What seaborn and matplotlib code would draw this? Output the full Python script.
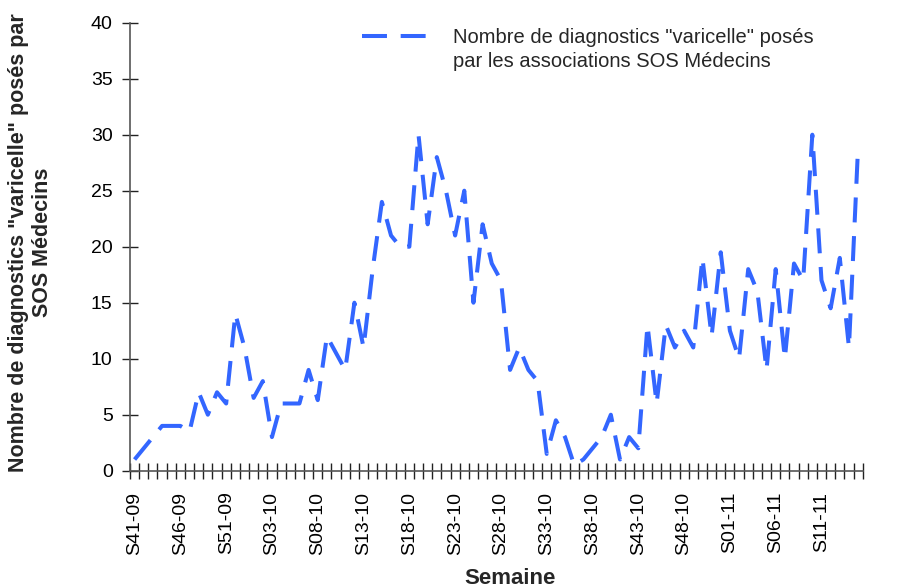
import numpy as np
import pandas as pd
import seaborn as sns
import matplotlib.pyplot as plt
from matplotlib.lines import Line2D

# weekly categories S41-09 .. S15-11 (2009 has 53 ISO weeks)
weeks = ([f"S{w:02d}-09" for w in range(41, 54)]
         + [f"S{w:02d}-10" for w in range(1, 53)]
         + [f"S{w:02d}-11" for w in range(1, 16)])

# number of "varicelle" diagnoses per week
diagnostics = [
    1, 2, 3, 4, 4, 4, 3.5, 7, 5, 7,
    6, 14, 11, 6.5, 8, 3, 6, 6, 6, 9,
    6.3, 12, 10.5, 9, 15, 11, 18, 24, 21, 20,
    20, 30, 22, 28, 25, 21, 25, 15, 22, 18.5,
    17, 9, 11, 9, 8, 1.5, 4.5, 3, 0.5, 1,
    2, 3, 5, 1, 3, 2, 13, 6, 13, 11,
    12.5, 11, 19, 12, 19.5, 12.5, 10, 18, 16, 9,
    18, 10, 18.5, 17, 30, 17, 14.5, 19, 11, 29,
]

y_ticks = [0, 5, 10, 15, 20, 25, 30, 35, 40]
label_step = 5

series_label = ['Nombre de diagnostics "varicelle" posés',
                'par les associations SOS Médecins']
y_title = 'Nombre de diagnostics "varicelle" posés par\nSOS Médecins'
x_title = 'Semaine'

df = pd.DataFrame({'semaine': weeks, 'pos': np.arange(len(weeks)), 'n': diagnostics})

sns.set_theme(style='white')
plt.rcParams['font.family'] = ['Liberation Sans', 'DejaVu Sans']

fig = plt.figure(figsize=(9.02, 5.88), dpi=100)
ax = fig.add_axes([130 / 902, 1 - 470.7 / 588, 732.7 / 902, 448 / 588])

sns.lineplot(data=df, x='pos', y='n', ax=ax, estimator=None, color='#3366FF',
             linewidth=2.9, linestyle=(0, (6.2, 3.4)), dash_capstyle='butt',
             legend=False)

ax.set_xlim(-0.5, len(weeks) - 0.5)
ax.set_ylim(0, 40)

# labels every 5 weeks, tick marks between categories
ax.set_xticks(df['pos'][::label_step])
ax.set_xticklabels(df['semaine'][::label_step], rotation=90)
ax.set_xticks(np.arange(len(weeks) + 1) - 0.5, minor=True)
ax.tick_params(axis='x', which='major', length=0, pad=15, labelsize=14, colors='black')
ax.tick_params(axis='x', which='minor', direction='inout', length=11, width=1, color='#222222')
ax.xaxis.set_ticks_position('bottom')

ax.set_yticks(y_ticks)
ax.tick_params(axis='y', which='major', direction='inout', length=11, width=1,
               color='#222222', labelsize=14, labelcolor='black', pad=7)
ax.yaxis.set_ticks_position('left')

for side in ['top', 'right']:
    ax.spines[side].set_visible(False)
for side in ['left', 'bottom']:
    ax.spines[side].set_color('#555555')
    ax.spines[side].set_linewidth(1.2)

ax.set_xlabel('')
ax.set_ylabel(y_title, fontsize=15.5, fontweight='bold', va='center', linespacing=1.2)
ax.yaxis.set_label_coords(-0.136, 0.51)
fig.text(510 / 902, 1 - 578 / 588, x_title, ha='center', va='center',
         fontsize=16, fontweight='bold')

handles = [ax.lines[0], Line2D([], [], color='none')]
fig.legend(handles, series_label, loc='upper left',
           bbox_to_anchor=(362 / 902, 1 - 28 / 588), frameon=False,
           handlelength=3.5, handletextpad=1.0, labelspacing=0.25,
           fontsize=14.5, borderpad=0, borderaxespad=0)

fig.savefig('out.png', dpi=100)
